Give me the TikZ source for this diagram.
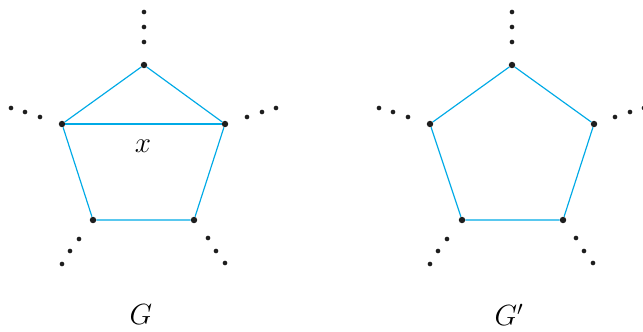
\documentclass[tikz,border=0pt]{standalone}
\usepackage{amsmath,amssymb}
\usepackage{xcolor}
\usepackage{tikz}
\usetikzlibrary{calc,positioning}
\definecolor{edgeCyan}{RGB}{0,170,230}
\definecolor{dotBlack}{RGB}{30,30,30}

\begin{document}
\begin{tikzpicture}[x=0.03cm,y=-0.03cm,
  vert/.style={circle,fill=dotBlack,inner sep=0pt,minimum size=5.5pt},
  tiny/.style={circle,fill=dotBlack,inner sep=0pt,minimum size=4pt},
  edge/.style={draw=edgeCyan,line width=1pt},
  lbl/.style={font=\fontsize{24}{28}\selectfont}]
\useasboundingbox (0,0) rectangle (643,331);
% graph G, with the chord x
\node[vert] (ga) at (144,65) {};
\node[vert] (gb) at (62,124) {};
\node[vert] (gc) at (225,124) {};
\node[vert] (gd) at (93,220) {};
\node[vert] (ge) at (194,220) {};
\draw[edge] (ga) -- (gc) -- (ge) -- (gd) -- (gb) -- (ga);
\draw[edge] (gb) -- (gc);
\node[lbl] (gx) at (143,146) {$x$};
\node[lbl] (gname) at (141,315) {$G$};
% graph G', chord removed
\node[vert] (ha) at (512,65) {};
\node[vert] (hb) at (430,124) {};
\node[vert] (hc) at (594,124) {};
\node[vert] (hd) at (462,220) {};
\node[vert] (he) at (563,220) {};
\draw[edge] (ha) -- (hc) -- (he) -- (hd) -- (hb) -- (ha);
\node[lbl] (hname) at (509,315) {$G'$};
% the rest of the graph, hinted by dots
\foreach \dx/\pre in {0/g,368/h}{
  \foreach \x/\y [count=\i] in {144/12,144/27,144/42,
      11/108,25/112,40/117, 247/117,262/112,276/108,
      79/239,70/251,62/264, 208/238,216/251,225/263}
    \node[tiny] (\pre dot\i) at (\x+\dx,\y) {};
}
\end{tikzpicture}
\end{document}
